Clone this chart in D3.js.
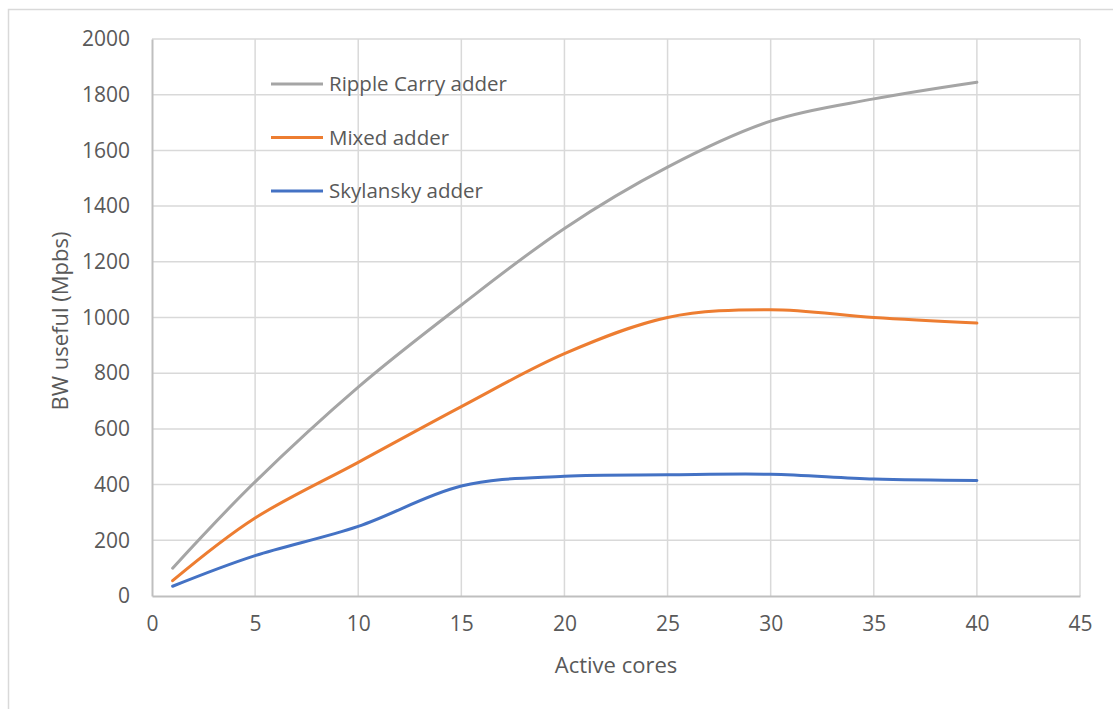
<!DOCTYPE html>
<html>
<head>
<meta charset="utf-8">
<script src="https://cdn.jsdelivr.net/npm/d3@7"></script>
<style>
  body { margin: 0; background: #fff; }
  text { font-family: "Open Sans", sans-serif; fill: #595959; }
</style>
</head>
<body>
<svg id="chart" width="1113" height="709"></svg>
<script>
// data
const cores = [1, 5, 10, 15, 20, 25, 30, 35, 40];
const rippleCarry = [100, 410, 750, 1045, 1320, 1540, 1705, 1785, 1845];
const mixed = [55, 280, 480, 680, 870, 1000, 1028, 1000, 980];
const skylansky = [35, 145, 250, 395, 430, 435, 437, 420, 415];
const seriesNames = ['Ripple Carry adder', 'Mixed adder', 'Skylansky adder'];
const seriesColors = ['#a5a5a5', '#ed7d31', '#4472c4'];
const xTicks = d3.range(0, 46, 5);
const yTicks = d3.range(0, 2001, 200);

const svg = d3.select('#chart');
const plotLeft = 152, plotRight = 1080, plotTop = 39, plotBottom = 596;

const x = d3.scaleLinear().domain([0, 45]).range([plotLeft, plotRight]);
const y = d3.scaleLinear().domain([0, 2000]).range([plotBottom, plotTop]);

// outer chart border
svg.append('rect')
  .attr('x', 8.5).attr('y', 9.5)
  .attr('width', 1120).attr('height', 720)
  .attr('fill', 'none')
  .attr('stroke', '#d9d9d9')
  .attr('stroke-width', 1.5);

// grid
svg.append('g').selectAll('line')
  .data(yTicks.slice(1)).enter().append('line')
  .attr('x1', plotLeft).attr('x2', plotRight)
  .attr('y1', d => y(d)).attr('y2', d => y(d))
  .attr('stroke', '#d9d9d9').attr('stroke-width', 1.5);

svg.append('g').selectAll('line')
  .data(xTicks.slice(1)).enter().append('line')
  .attr('x1', d => x(d)).attr('x2', d => x(d))
  .attr('y1', plotTop).attr('y2', plotBottom)
  .attr('stroke', '#d9d9d9').attr('stroke-width', 1.5);

// axes
const xAxis = svg.append('g')
  .attr('transform', `translate(0,${plotBottom})`)
  .call(d3.axisBottom(x).tickValues(xTicks).tickSize(0).tickPadding(20));
const yAxis = svg.append('g')
  .attr('transform', `translate(${plotLeft},0)`)
  .call(d3.axisLeft(y).tickValues(yTicks).tickFormat(d3.format('d')).tickSize(0).tickPadding(22));

[xAxis, yAxis].forEach(a => {
  a.select('.domain').attr('stroke', '#bfbfbf').attr('stroke-width', 2);
  a.selectAll('text')
    .style('font-family', '"Open Sans", sans-serif')
    .style('font-size', '21px')
    .attr('fill', '#595959');
});

// axis titles
svg.append('text')
  .attr('x', 616).attr('y', 673)
  .attr('text-anchor', 'middle')
  .style('font-size', '22px')
  .text('Active cores');

svg.append('text')
  .attr('transform', 'translate(68,321) rotate(-90)')
  .attr('text-anchor', 'middle')
  .style('font-size', '22px')
  .text('BW useful (Mpbs)');

// lines
const line = d3.line()
  .x((d, i) => x(cores[i]))
  .y(d => y(d))
  .curve(d3.curveCardinal.tension(0));

svg.append('g').selectAll('path')
  .data([rippleCarry, mixed, skylansky]).enter().append('path')
  .attr('d', line)
  .attr('fill', 'none')
  .attr('stroke', (d, i) => seriesColors[i])
  .attr('stroke-width', 3)
  .attr('stroke-linecap', 'round');

// legend
const legend = svg.append('g').selectAll('g')
  .data(seriesNames).enter().append('g')
  .attr('transform', (d, i) => `translate(271,${84 + i * 53.5})`);

legend.append('line')
  .attr('x1', 0).attr('x2', 52)
  .attr('stroke', (d, i) => seriesColors[i])
  .attr('stroke-width', 3);

legend.append('text')
  .attr('x', 58).attr('dy', '0.35em')
  .style('font-size', '20.5px')
  .text(d => d);
</script>
</body>
</html>
